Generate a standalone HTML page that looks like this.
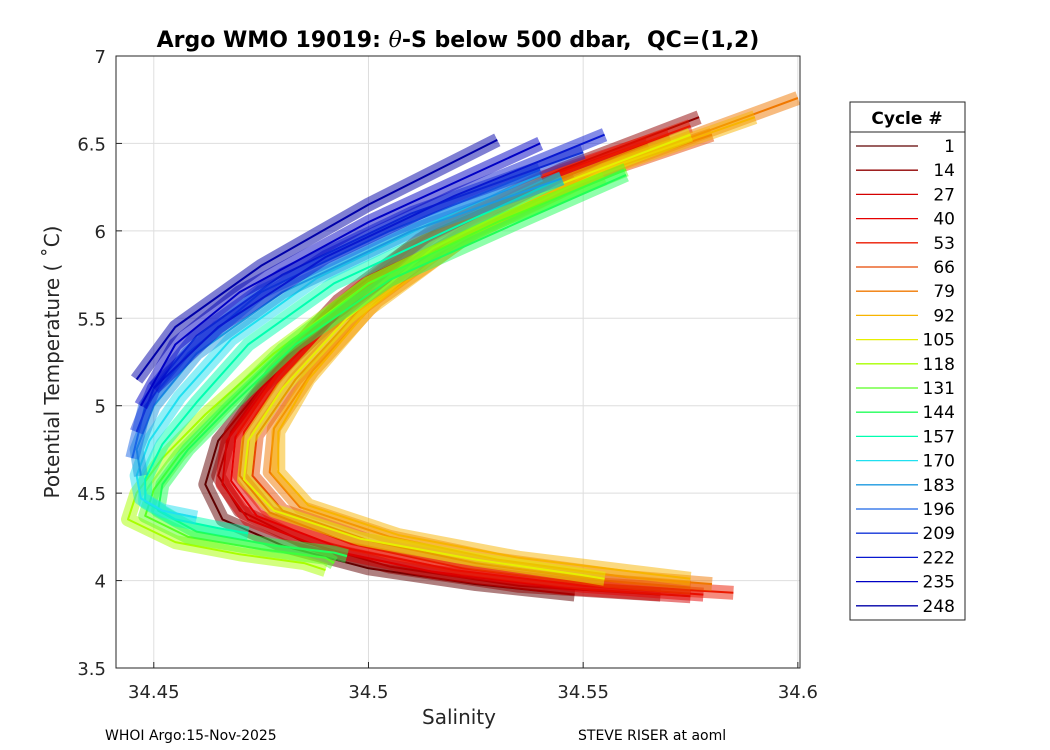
<!DOCTYPE html>
<html><head><meta charset="utf-8"><style>
body{margin:0;background:#fff;}
svg{display:block;font-family:"DejaVu Sans","Liberation Sans",sans-serif;}
</style></head><body>
<svg id="chart" width="1050" height="750" viewBox="0 0 1050 750">
<rect width="1050" height="750" fill="#fff"/>
<g id="grid"></g>
<g id="plot"></g>
<rect x="116" y="56" width="684" height="612" fill="none" stroke="#262626" stroke-width="1"/>
<g id="ticks"></g>
<text x="458" y="47" text-anchor="middle" font-size="22" font-weight="bold" fill="#000" xml:space="preserve">Argo WMO 19019: <tspan font-style="italic" font-weight="normal" font-family="DejaVu Serif, serif">θ</tspan>-S below 500 dbar,  QC=(1,2)</text>
<text x="459" y="724" text-anchor="middle" font-size="20" fill="#262626">Salinity</text>
<text transform="translate(59,362) rotate(-90)" text-anchor="middle" font-size="20" fill="#262626">Potential Temperature ( ˚C)</text>
<text x="105" y="740" font-size="14" fill="#000">WHOI Argo:15-Nov-2025</text>
<text x="578" y="740" font-size="14" fill="#000">STEVE RISER at aoml</text>
<g id="legend">
<rect x="850" y="102" width="115" height="518" fill="#fff" stroke="#262626" stroke-width="1"/>
<line x1="850" y1="132" x2="965" y2="132" stroke="#262626"/>
<text x="907" y="124" text-anchor="middle" font-size="17" font-weight="bold">Cycle #</text>
</g>
</svg>
<script>
const xTicks=[34.45,34.5,34.55,34.6];
const xTickLabels=["34.45","34.5","34.55","34.6"];
const yTicks=[3.5,4,4.5,5,5.5,6,6.5,7];
const yTickLabels=["3.5","4","4.5","5","5.5","6","6.5","7"];
const cycles=[1,14,27,40,53,66,79,92,105,118,131,144,157,170,183,196,209,222,235,248];
const cycleColors=["#600000","#900000","#d40000","#e60000","#eb1a00","#e84800","#f07800","#f8b400","#e6f000","#a8ff00","#58ff20","#20ff58","#00ffb0","#20e0f0","#1c9ae0","#1a66e6","#1234d8","#0818d0","#0000c4","#0000a8"];
// profiles: salinity and temperature arrays, one per legend cycle
const profS=[
[34.548,34.53,34.51,34.49,34.475,34.465,34.462,34.466,34.48,34.5,34.525,34.548],
[34.577,34.545,34.515,34.493,34.478,34.468,34.465,34.47,34.485,34.505,34.535,34.568],
[34.565,34.54,34.51,34.49,34.476,34.467,34.466,34.472,34.49,34.515,34.545,34.575],
[34.57,34.54,34.512,34.492,34.478,34.469,34.468,34.474,34.492,34.52,34.55,34.578],
[34.575,34.545,34.515,34.495,34.48,34.471,34.47,34.477,34.496,34.522,34.552,34.585],
[34.58,34.55,34.52,34.498,34.483,34.474,34.473,34.48,34.5,34.525,34.555,34.575],
[34.6,34.56,34.525,34.502,34.487,34.478,34.477,34.484,34.505,34.53,34.56,34.58],
[34.59,34.555,34.522,34.5,34.486,34.479,34.479,34.486,34.507,34.535,34.565,34.575],
[34.575,34.545,34.515,34.495,34.48,34.472,34.471,34.478,34.498,34.525,34.55,34.555],
[34.555,34.53,34.5,34.478,34.462,34.452,34.446,34.444,34.455,34.47,34.485,34.49],
[34.56,34.53,34.5,34.48,34.466,34.456,34.45,34.448,34.458,34.475,34.49,34.492],
[34.56,34.535,34.505,34.483,34.468,34.458,34.452,34.451,34.46,34.478,34.492,34.495],
[34.545,34.52,34.492,34.472,34.46,34.452,34.448,34.448,34.455,34.465,34.472],
[34.54,34.515,34.488,34.468,34.456,34.449,34.446,34.447,34.452,34.46],
[34.545,34.51,34.48,34.46,34.45,34.446,34.447],
[34.54,34.505,34.475,34.458,34.448,34.445],
[34.55,34.51,34.48,34.46,34.45,34.446],
[34.555,34.52,34.49,34.465,34.45],
[34.54,34.5,34.47,34.455,34.447],
[34.53,34.5,34.475,34.455,34.446]];
const profT=[
[6.3,6.1,5.8,5.45,5.1,4.8,4.55,4.35,4.2,4.07,3.98,3.92],
[6.65,6.35,6.0,5.6,5.2,4.85,4.6,4.4,4.22,4.08,3.97,3.92],
[6.5,6.25,5.9,5.5,5.1,4.8,4.55,4.35,4.18,4.05,3.96,3.91],
[6.55,6.3,5.95,5.55,5.15,4.82,4.57,4.37,4.2,4.06,3.97,3.92],
[6.6,6.33,5.98,5.57,5.17,4.85,4.6,4.39,4.21,4.07,3.98,3.93],
[6.55,6.3,5.95,5.55,5.15,4.83,4.6,4.4,4.23,4.1,4.0,3.96],
[6.76,6.4,6.0,5.6,5.2,4.87,4.62,4.42,4.25,4.12,4.02,3.98],
[6.65,6.35,5.95,5.55,5.15,4.85,4.62,4.43,4.26,4.13,4.04,4.01],
[6.55,6.27,5.9,5.5,5.1,4.8,4.58,4.4,4.24,4.12,4.03,4.01],
[6.3,6.05,5.7,5.3,4.95,4.7,4.5,4.35,4.22,4.15,4.1,4.06],
[6.35,6.05,5.7,5.32,4.98,4.72,4.52,4.37,4.25,4.18,4.13,4.1],
[6.32,6.05,5.72,5.35,5.0,4.75,4.55,4.4,4.28,4.2,4.16,4.14],
[6.3,6.02,5.7,5.35,5.02,4.78,4.58,4.45,4.35,4.3,4.27],
[6.32,6.05,5.73,5.38,5.05,4.8,4.6,4.47,4.4,4.36],
[6.3,6.0,5.65,5.3,5.0,4.75,4.6],
[6.35,6.0,5.65,5.3,5.0,4.7],
[6.45,6.1,5.75,5.4,5.1,4.85],
[6.55,6.2,5.85,5.45,5.1],
[6.5,6.05,5.65,5.35,5.0],
[6.52,6.15,5.8,5.45,5.15]];
const NS="http://www.w3.org/2000/svg";
const X0=116,X1=800,Y0=56,Y1=668,SMIN=34.4412,SMAX=34.6005,TMIN=3.5,TMAX=7;
function xs(s){return X0+(s-SMIN)/(SMAX-SMIN)*(X1-X0);}
function ys(t){return Y1-(t-TMIN)/(TMAX-TMIN)*(Y1-Y0);}
function mk(tag,attrs,parent){const e=document.createElementNS(NS,tag);for(const k in attrs)e.setAttribute(k,attrs[k]);parent.appendChild(e);return e;}
const grid=document.getElementById('grid'),ticks=document.getElementById('ticks'),plot=document.getElementById('plot'),legend=document.getElementById('legend');
xTicks.forEach((v,i)=>{const x=xs(v);
 const g=mk('line',{x1:x,x2:x,y1:Y0,y2:Y1,stroke:'#dedede','stroke-width':1},grid);
 
 
 mk('line',{x1:x,x2:x,y1:Y1,y2:Y1-6,stroke:'#262626'},ticks);
 const t=mk('text',{x:x,y:Y1+30,'text-anchor':'middle','font-size':18,fill:'#262626'},ticks);
 t.textContent=xTickLabels[i];
 
 });
yTicks.forEach((v,i)=>{const y=ys(v);
 const g=mk('line',{x1:X0,x2:X1,y1:y,y2:y,stroke:'#dedede','stroke-width':1},grid);
 
 
 mk('line',{x1:X0,x2:X0+6,y1:y,y2:y,stroke:'#262626'},ticks);
 const t=mk('text',{x:X0-10,y:y+7,'text-anchor':'end','font-size':18,fill:'#262626'},ticks);
 t.textContent=yTickLabels[i];
 
 });
cycles.forEach((c,i)=>{
 const pts=profS[i].map((s,j)=>xs(s).toFixed(1)+','+ys(profT[i][j]).toFixed(1)).join(' ');
 const band=mk('polyline',{points:pts,fill:'none',stroke:cycleColors[i],'stroke-width':14,'stroke-opacity':0.5,'stroke-linejoin':'round','stroke-linecap':'butt'},plot);
 
 
 const p=mk('polyline',{points:pts,fill:'none',stroke:cycleColors[i],'stroke-width':2,'stroke-linejoin':'round'},plot);
 
 });
cycles.forEach((c,i)=>{const y=146+i*24.2;
 const l=mk('line',{x1:856,x2:918,y1:y,y2:y,stroke:cycleColors[i],'stroke-width':1.3},legend);
 
 
 const t=mk('text',{x:955,y:y+6,'text-anchor':'end','font-size':17,fill:'#000'},legend);
 t.textContent=String(c);
 
 });
</script>
</body></html>
